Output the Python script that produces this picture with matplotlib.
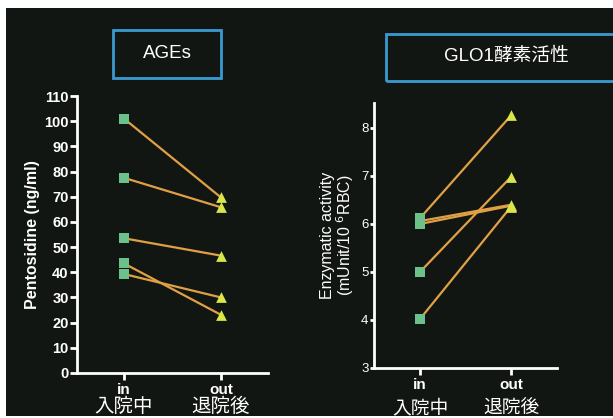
import matplotlib
matplotlib.use("Agg")
import matplotlib.pyplot as plt
from matplotlib.patches import Rectangle
import matplotlib.transforms as mtransforms

plt.rcParams['font.family'] = ['Liberation Sans', 'Noto Sans CJK JP', 'DejaVu Sans']

# ---- data ----
categories = ["in", "out"]
categories_jp = ["入院中", "退院後"]

ages_in = [101, 77.5, 53.5, 43.5, 39.3]
ages_out = [69.7, 65.8, 46.6, 23.1, 30.0]

glo_in = [6.12, 6.06, 6.0, 5.0, 4.02]
glo_out = [8.26, 6.40, 6.38, 6.98, 6.36]

ages_title = "AGEs"
glo_title = "GLO1酵素活性"
ages_ylabel = "Pentosidine (ng/ml)"
glo_ylabel = "Enzymatic activity\n(mUnit/10 $^{6}$RBC)"
ages_yticks = list(range(0, 111, 10))
glo_yticks = [3, 4, 5, 6, 7, 8]

# ---- style ----
W, H = 613, 418
BG = "#121612"
SQ = "#6cc08a"
TRI = "#d8e64a"
LINE = "#e0a046"
BOX = "#3a9ad0"

fig = plt.figure(figsize=(W / 100, H / 100), dpi=100, facecolor="white")
fig.patches.append(Rectangle((6 / W, 2 / H), 1 - 6 / W, (416 - 8) / H,
                             transform=fig.transFigure, facecolor=BG,
                             edgecolor="none", zorder=-10))

def px(x0, y0, x1, y1):
    return [x0 / W, 1 - y1 / H, (x1 - x0) / W, (y1 - y0) / H]

categories_x = [0, 1]

def style_axis(ax):
    ax.set_facecolor("none")
    for s in ["top", "right"]:
        ax.spines[s].set_visible(False)
    for s in ["left", "bottom"]:
        ax.spines[s].set_color("white")
        ax.spines[s].set_linewidth(2)
    ax.tick_params(colors="white", width=2, length=5)
    ax.set_xticks(categories_x)
    ax.set_xticklabels(categories, fontweight="bold", fontsize=11)
    ax.tick_params(axis="x", pad=2)

def draw_pairs(ax, a, b):
    for y0, y1 in zip(a, b):
        ax.plot(categories_x, [y0, y1], color=LINE, lw=1.6, zorder=2)
    ax.scatter([0] * len(a), a, marker="s", s=55, color=SQ, zorder=3, linewidths=0)
    ax.scatter([1] * len(b), b, marker="^", s=60, color=TRI, zorder=3, linewidths=0)

# left panel
ax1 = fig.add_axes(px(77, 96, 268, 373))
style_axis(ax1)
ax1.set_xlim(-0.485, 1.485)
ax1.set_ylim(0, 110)
ax1.set_yticks(ages_yticks)
ax1.set_yticklabels([str(t) for t in ages_yticks], fontweight="bold",
                    color="white", fontsize=10.5)
ax1.tick_params(axis="y", pad=1)
draw_pairs(ax1, ages_in, ages_out)
ax1.set_ylabel(ages_ylabel, color="white", fontsize=11.5, fontweight="bold", labelpad=3)
tr1 = mtransforms.blended_transform_factory(ax1.transData, fig.transFigure)
for i, t in enumerate(categories_jp):
    ax1.text(i, 1 - 406 / H, t, transform=tr1, ha="center", va="center",
             color="white", fontsize=14, family=["Noto Sans CJK JP"])

# right panel
ax2 = fig.add_axes(px(374, 103, 557, 368))
style_axis(ax2)
ax2.set_xlim(-0.505, 1.505)
ax2.set_ylim(3, 8.52)
ax2.set_yticks(glo_yticks)
ax2.set_yticklabels([str(t) for t in glo_yticks], color="white", fontsize=9.5)
ax2.tick_params(axis="y", length=3, pad=1)
draw_pairs(ax2, glo_in, glo_out)
ax2.set_ylabel(glo_ylabel, color="white", fontsize=11.5, labelpad=4, linespacing=0.95)
tr2 = mtransforms.blended_transform_factory(ax2.transData, fig.transFigure)
for i, t in enumerate(categories_jp):
    ax2.text(i, 1 - 408 / H, t, transform=tr2, ha="center", va="center",
             color="white", fontsize=13.5, family=["Noto Sans CJK JP"])

# title boxes
fig.patches.append(Rectangle((113 / W, 1 - 78 / H), (221 - 113) / W, 48 / H,
                             transform=fig.transFigure, facecolor="none",
                             edgecolor=BOX, lw=2))
fig.text(167 / W, 1 - 54 / H, ages_title, ha="center", va="center",
         color="white", fontsize=13.5)
fig.patches.append(Rectangle((386 / W, 1 - 81 / H), (640 - 386) / W, 47 / H,
                             transform=fig.transFigure, facecolor="none",
                             edgecolor=BOX, lw=2))
fig.text(506 / W, 1 - 56 / H, glo_title, ha="center", va="center",
         color="white", fontsize=13.5, family=["Liberation Sans", "Noto Sans CJK JP"])

fig.savefig("out.png", dpi=100, facecolor="white")
